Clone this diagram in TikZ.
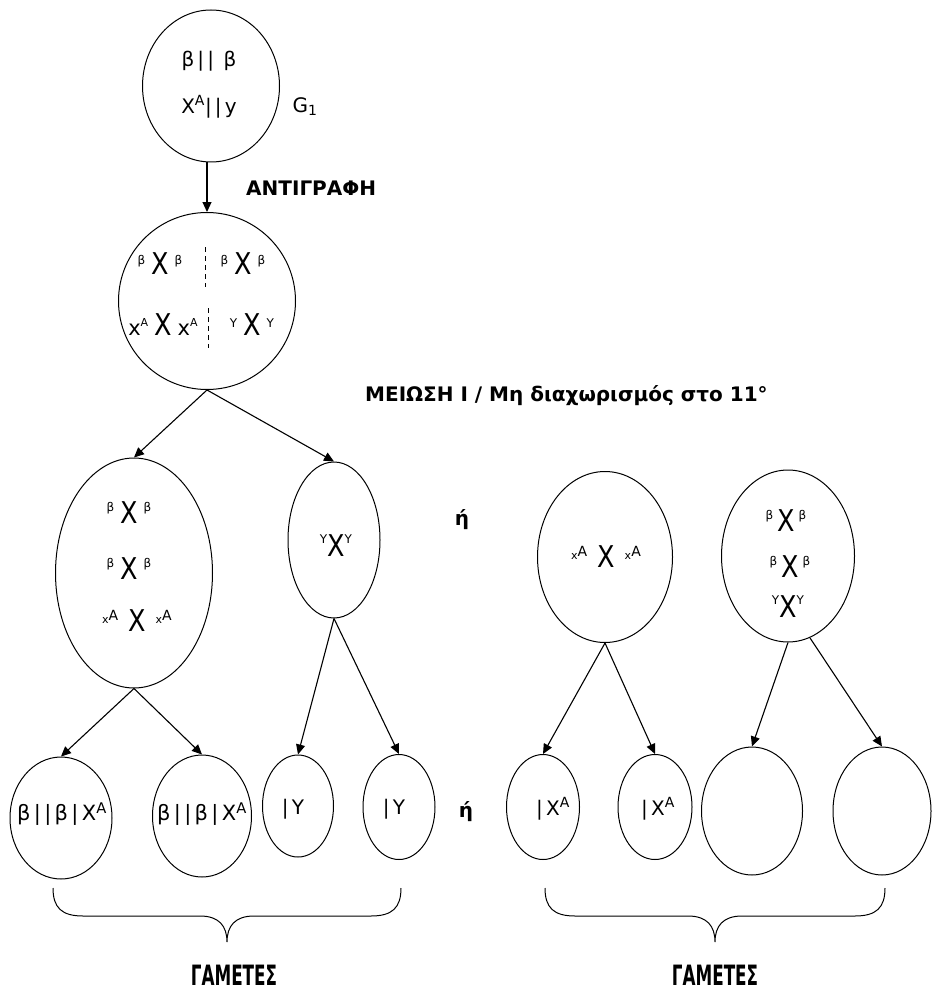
\documentclass[tikz,border=0pt]{standalone}
\usepackage{graphicx}
\usepackage{fontspec}
\setmainfont{DejaVu Sans}
\newfontfamily\cellfont[LetterSpace=16]{DejaVu Sans}
\newfontfamily\gamfont[FakeStretch=0.6]{DejaVu Sans}
\usetikzlibrary{shapes.geometric, arrows.meta}

% big chromatid cross and small raised letters
\newcommand{\bigX}{\scalebox{0.85}[1]{\fontsize{30}{30}\selectfont X}}
\newcommand{\up}[2][12]{\raisebox{#1pt}{\fontsize{12}{12}\selectfont #2}}
\newcommand{\jarak}{\hspace{6pt}}
\newcommand{\xa}{\raisebox{8pt}{\fontsize{11}{11}\selectfont x}\raisebox{11pt}{\fontsize{14}{14}\selectfont A}}
\newcommand{\xab}{{\fontsize{21}{21}\selectfont x}\raisebox{9pt}{\fontsize{11}{11}\selectfont A}}

\begin{document}
\begin{tikzpicture}[
  x=1pt, y=-1pt,
  sel/.style={draw, ellipse, line width=1pt, inner sep=0pt},
  tulisan/.style={font=\cellfont\fontsize{20}{22}\selectfont, inner sep=0pt},
  judul/.style={font=\bfseries\fontsize{20}{22}\selectfont, inner sep=0pt},
  kromo/.style={inner sep=0pt},
  panah/.style={-{Triangle[length=10pt,width=9pt]}, line width=1.1pt},
  putus/.style={dash pattern=on 5pt off 4pt, line width=1pt}
]
  \useasboundingbox (0,0) rectangle (932,995);

  % cells
  \node[sel, minimum width=137pt, minimum height=152pt] (g1) at (211,86) {};
  \node[sel, minimum width=177pt, minimum height=177pt] (rep) at (207,301) {};
  \node[sel, minimum width=157pt, minimum height=230pt] (kiri) at (134,573) {};
  \node[sel, minimum width=92pt, minimum height=156pt] (yy) at (334,540) {};
  \node[sel, minimum width=135pt, minimum height=171pt] (xx) at (605,557) {};
  \node[sel, minimum width=133pt, minimum height=172pt] (kanan) at (788,556) {};

  % gametes
  \node[sel, minimum width=102pt, minimum height=122pt] (gm1) at (61,818) {};
  \node[sel, minimum width=99pt, minimum height=122pt] (gm2) at (202,816) {};
  \node[sel, minimum width=71pt, minimum height=102pt] (gm3) at (298,806) {};
  \node[sel, minimum width=72pt, minimum height=105pt] (gm4) at (399,807) {};
  \node[sel, minimum width=73pt, minimum height=105pt] (gm5) at (543,807) {};
  \node[sel, minimum width=74pt, minimum height=105pt] (gm6) at (655,807) {};
  \node[sel, minimum width=101pt, minimum height=128pt] (gm7) at (752,811) {};
  \node[sel, minimum width=98pt, minimum height=128pt] (gm8) at (882,811) {};

  % texts in the first cell
  \node[tulisan] (g1a) at (209,61) {β|| β};
  \node[tulisan] (g1b) at (209,107) {X\textsuperscript{A}||y};
  \node[font=\fontsize{20}{22}\selectfont, inner sep=0pt] (g1lab) at (305,107) {G\textsubscript{1}};
  \node[judul, anchor=base west] (salin) at (246,195) {ΑΝΤΙΓΡΑΦΗ};

  % replicated cell
  \node[kromo] (rep1) at (160,264) {\up[10.5]{β}\jarak\bigX\jarak\up[10.5]{β}};
  \node[kromo] (rep2) at (243,264) {\up[10.5]{β}\jarak\bigX\jarak\up[10.5]{β}};
  \node[kromo] (rep3) at (163,325) {\xab\jarak\bigX\jarak\xab};
  \node[kromo] (rep4) at (252,325) {\up[8]{Y}\jarak\bigX\jarak\up[8]{Y}};
  \draw[putus] (205,247) -- (205,287);
  \draw[putus] (208,308) -- (208,348);
  \node[judul, anchor=base west] (meiosi) at (365,401) {ΜΕΙΩΣΗ Ι / Μη διαχωρισμός στο 11°};

  % daughter cells
  \node[kromo] (ki1) at (129,513) {\up{β}\jarak\bigX\jarak\up{β}};
  \node[kromo] (ki2) at (129,569) {\up{β}\jarak\bigX\jarak\up{β}};
  \node[kromo] (ki3) at (137,621) {\xa\hspace{10pt}\bigX\hspace{10pt}\xa};
  \node[kromo] (yy1) at (336,546) {\up[13]{Y}\bigX\up[13]{Y}};
  \node[kromo] (xx1) at (606,557) {\xa\hspace{10pt}\bigX\hspace{10pt}\xa};
  \node[kromo] (ka1) at (786,521) {\up{β}\hspace{4pt}\bigX\hspace{4pt}\up{β}};
  \node[kromo] (ka2) at (790,567) {\up{β}\hspace{4pt}\bigX\hspace{4pt}\up{β}};
  \node[kromo] (ka3) at (788,607) {\up[13]{Y}\bigX\up[13]{Y}};
  \node[judul] (ataua) at (462,520) {ή};

  % gamete texts
  \node[tulisan, font=\cellfont\fontsize{21}{22}\selectfont] (t1) at (62,814) {β||β|X\textsuperscript{A}};
  \node[tulisan, font=\cellfont\fontsize{21}{22}\selectfont] (t2) at (202,814) {β||β|X\textsuperscript{A}};
  \node[tulisan] (t3) at (293,809) {|Y};
  \node[tulisan] (t4) at (394,809) {|Y};
  \node[tulisan] (t5) at (553,809) {|X\textsuperscript{A}};
  \node[tulisan] (t6) at (658,809) {|X\textsuperscript{A}};
  \node[judul] (ataub) at (466,812) {ή};

  % arrows
  \draw[panah] (g1.south -| rep.north) -- (rep.north);
  \draw[panah] (rep.south) -- (kiri.north);
  \draw[panah] (rep.south) -- (yy.north);
  \draw[panah] (kiri.south) -- (gm1.north);
  \draw[panah] (kiri.south) -- (gm2.north);
  \draw[panah] (yy.south) -- (gm3.north);
  \draw[panah] (yy.south) -- (gm4.north);
  \draw[panah] (xx.south) -- (gm5.north);
  \draw[panah] (xx.south) -- (gm6.north);
  \draw[panah] (kanan.south) -- (gm7.north);
  \draw[panah] (kanan.-75) -- (gm8.north);

  % braces
  \foreach \a/\m/\b in {53/227/401, 545/715/885}
    \draw[line width=1pt] (\a,888) .. controls (\a,908) and ({\a+9},916) .. ({\a+30},916)
      -- ({\m-27},916) .. controls ({\m-8},916) and (\m,926) .. (\m,942)
      .. controls (\m,926) and ({\m+8},916) .. ({\m+27},916)
      -- ({\b-30},916) .. controls ({\b-9},916) and (\b,908) .. (\b,888);
  \node[font=\gamfont\bfseries\fontsize{28}{28}\selectfont] (gam1) at (234,975) {ΓΑΜΕΤΕΣ};
  \node[font=\gamfont\bfseries\fontsize{28}{28}\selectfont] (gam2) at (715,975) {ΓΑΜΕΤΕΣ};
\end{tikzpicture}
\end{document}
